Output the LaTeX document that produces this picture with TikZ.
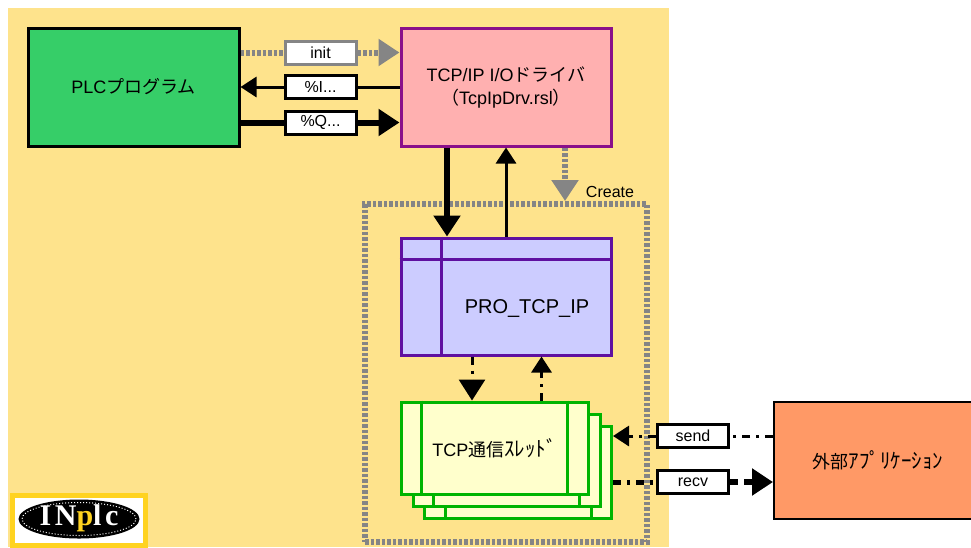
\documentclass[tikz,border=0pt]{standalone}
\usepackage{fontspec}
\setmainfont{Liberation Sans}
\newfontfamily\cjk{Noto Sans CJK JP}
\newfontfamily\logofont[LetterSpace=12]{Liberation Serif}
\usepackage{xcolor}
\usetikzlibrary{arrows.meta,shapes.geometric}
\definecolor{bgyellow}{HTML}{FEE38C}
\definecolor{plcgreen}{HTML}{36CE68}
\definecolor{drvpink}{HTML}{FFB0B0}
\definecolor{drvedge}{HTML}{8A0F8A}
\definecolor{problue}{HTML}{CCCCFF}
\definecolor{proedge}{HTML}{5F10A0}
\definecolor{thrfill}{HTML}{FFFFCC}
\definecolor{thredge}{HTML}{00B400}
\definecolor{extorange}{HTML}{FF9966}
\definecolor{lineGray}{HTML}{858585}
\definecolor{logoyellow}{HTML}{FFD320}
\newcommand{\hankaku}[1]{{\fontsize{21}{22}\selectfont\cjk #1}}
\tikzset{
    box/.style={draw, line width=3pt, minimum width=#1, anchor=center, inner sep=0pt},
    tag/.style={draw, fill=white, line width=3pt, minimum width=71pt, minimum height=23pt, inner sep=0pt, font=\fontsize{16}{18}\selectfont},
    thin head/.style={-{Triangle[length=16pt,width=20pt]}},
    fat head/.style={-{Triangle[length=21pt,width=26pt]}},
    dashdot/.style={dash pattern=on 8pt off 6pt on 3pt off 6pt},
    greyline/.style={lineGray, line width=6pt, dash pattern=on 3.5pt off 2pt}
}
\begin{document}
\begin{tikzpicture}[x=1pt,y=-1pt]
    \useasboundingbox (0,0) rectangle (971,547);
    \fill[bgyellow] (8,8) rectangle (669,547);

    % Main blocks
    \node[box=211pt, minimum height=118pt, fill=plcgreen, font=\fontsize{18}{20}\selectfont] (plc) at (133.5,87) {PLC{\cjk プログラム}};
    \node[box=210pt, minimum height=118pt, fill=drvpink, draw=drvedge, align=center, font=\fontsize{18}{23}\selectfont] (drv) at (506,87) {TCP/IP I/O{\cjk ドライバ}\\{\cjk （}TcpIpDrv.rsl{\cjk ）}};
    \node[box=210pt, minimum height=117pt, fill=problue, draw=proedge] (pro) at (506,296.5) {};
    \node[font=\fontsize{20}{22}\selectfont] (protxt) at (527,308) {PRO\_TCP\_IP};
    \draw[proedge, line width=3pt] ([yshift=-23pt]pro.north west) -- ([yshift=-23pt]pro.north east);
    \draw[proedge, line width=3pt] ([xshift=42pt]pro.north west) -- ([xshift=42pt]pro.south west);
    \node[box=208pt, minimum height=117pt, fill=extorange, line width=2pt] (ext) at (878,460.5) {\fontsize{18}{20}\selectfont{\cjk 外部}\hankaku{ｱﾌﾟﾘｹｰｼｮﾝ}};

    % Thread stack, back to front
    \foreach \cx/\cy/\name in {518/472/thrc, 506.5/460/thrb, 494.5/448/thra} {
        \node[box=187pt, minimum height=92pt, fill=thrfill, draw=thredge] (\name) at (\cx,\cy) {};
        \draw[thredge, line width=3pt] ([xshift=22pt]\name.north west) -- ([xshift=22pt]\name.south west);
        \draw[thredge, line width=3pt] ([xshift=-22pt]\name.north east) -- ([xshift=-22pt]\name.south east);
    }
    \node[font=\fontsize{18}{20}\selectfont] (thrtxt) at (494.5,448) {TCP{\cjk 通信}\hankaku{ｽﾚｯﾄﾞ}};

    % Create frame
    \node[draw=lineGray, line width=6pt, dash pattern=on 3.5pt off 2pt, minimum width=282pt, minimum height=338pt, inner sep=0pt] (frame) at (506,373) {};
    \node[font=\fontsize{16}{18}\selectfont] (create) at (610,192) {Create};

    % Labels on the PLC links
    \node[tag, draw=lineGray] (init) at (320.5,52.5) {init};
    \node[tag] (inp) at (320.5,87) {\%I...};
    \node[tag] (outp) at (320.5,122.5) {\%Q...};
    \node[tag] (send) at (693,436) {send};
    \node[tag] (recv) at (693,482) {recv};

    % Links PLC <-> driver
    \draw[greyline] (plc.east |- init) -- (init);
    \draw[greyline, fat head] (init) -- (drv.west |- init);
    \draw[line width=3pt] (drv.west |- inp) -- (inp);
    \draw[line width=3pt, thin head] (inp) -- (plc.east |- inp);
    \draw[line width=6pt] (plc.east |- outp) -- (outp);
    \draw[line width=6pt, fat head] (outp) -- (drv.west |- outp);

    % Links driver <-> task
    \draw[line width=6pt, fat head] ([xshift=-59pt]drv.south) -- ([xshift=-59pt]pro.north);
    \draw[line width=3pt, thin head] (pro.north) -- (drv.south);
    \draw[greyline, fat head] ([xshift=59pt]drv.south) -- ([xshift=59pt]frame.north);

    % Links task <-> threads
    \draw[line width=3pt, dashdot, fat head] ([xshift=-34pt]pro.south) -- ([xshift=-22.5pt]thra.north);
    \draw[line width=3pt, dashdot, thin head] ([xshift=47pt]thra.north) -- ([xshift=35.5pt]pro.south);

    % Links to the outside
    \draw[line width=3pt, dashdot] (ext.west |- send) -- (send);
    \draw[line width=3pt, dashdot, thin head] (send) -- (thrc.east |- send);
    \draw[line width=5pt, dashdot] (thrc.east |- recv) -- (recv);
    \draw[line width=6pt, dash pattern=on 8pt off 6pt on 30pt, fat head] (recv) -- (ext.west |- recv);

    % Logo
    \node[draw=logoyellow, fill=white, line width=5pt, minimum width=133pt, minimum height=50pt, inner sep=0pt] (logo) at (79,520) {};
    \node[ellipse, fill=black, minimum width=121pt, minimum height=39pt, inner sep=0pt] (logomark) at (79,519) {};
    \node[ellipse, draw=white, dotted, line width=1pt, minimum width=114pt, minimum height=33pt, inner sep=0pt] (logoring) at (79,519) {};
    \node[font=\fontsize{30}{30}\selectfont\logofont\bfseries, text=white] (logotxt) at (79,518) {IN{\color{logoyellow}p}lc};
\end{tikzpicture}
\end{document}
